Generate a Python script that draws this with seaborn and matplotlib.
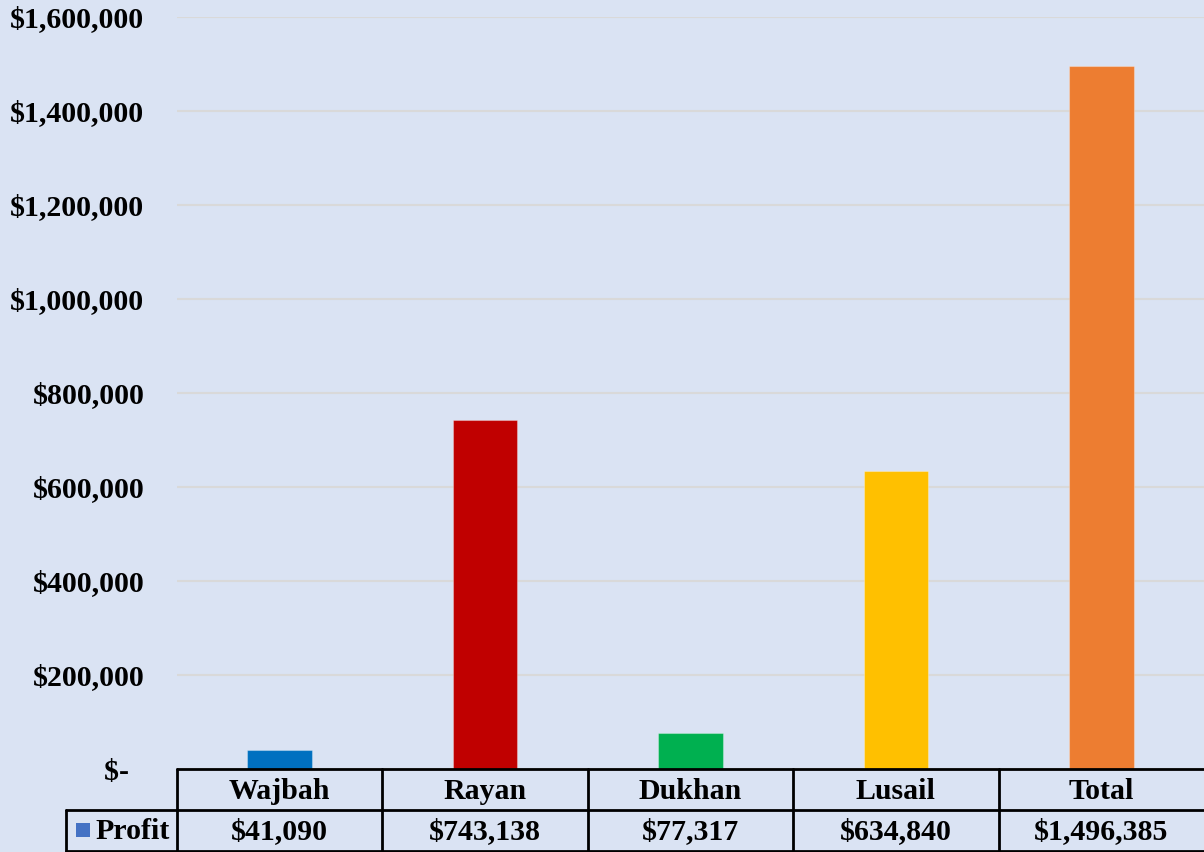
import matplotlib
matplotlib.use("Agg")
import matplotlib.pyplot as plt
import matplotlib.transforms as mtransforms
from matplotlib.lines import Line2D
from matplotlib.patches import Rectangle
from matplotlib.ticker import FuncFormatter
import seaborn as sns
import pandas as pd

# ---- data ----
categories = ["Wajbah", "Rayan", "Dukhan", "Lusail", "Total"]
profit = [41090, 743138, 77317, 634840, 1496385]
bar_colors = ["#0070C0", "#C00000", "#00B050", "#FFC000", "#ED7D31"]
series_name = "Profit"
legend_color = "#4472C4"
y_ticks = [0, 200000, 400000, 600000, 800000, 1000000, 1200000, 1400000, 1600000]

bg = "#DAE3F3"
FS = 21.5

sns.set_theme(style="white")
plt.rcParams["font.family"] = ["Liberation Serif", "DejaVu Serif"]
plt.rcParams["font.weight"] = "bold"

W, H = 1204, 852
fig = plt.figure(figsize=(W / 100, H / 100), dpi=100, facecolor=bg)
ax_left, ax_right, ax_bottom, ax_top = 177, 1204, 769, 17
ax = fig.add_axes([ax_left / W, (H - ax_bottom) / H, (ax_right - ax_left) / W, (ax_bottom - ax_top) / H])
ax.set_facecolor(bg)

df = pd.DataFrame({"cat": categories, "val": profit})
sns.barplot(data=df, x="cat", y="val", hue="cat", palette=bar_colors, order=categories,
            hue_order=categories, legend=False, width=0.315, ax=ax, zorder=3,
            edgecolor=(1, 1, 1, 0.3), linewidth=0.8, saturation=1)

ax.set_xlim(-0.5, len(categories) - 0.5)
ax.set_ylim(0, 1600000)
ax.set_yticks(y_ticks)
ax.yaxis.set_major_formatter(FuncFormatter(lambda v, p: "$-  " if v == 0 else "${:,.0f}".format(v)))
ax.tick_params(axis="y", length=0, pad=23.5, labelsize=FS)
for lbl in ax.get_yticklabels():
    lbl.set_fontweight("bold")
    lbl.set_color("black")
ax.set_xticks([])
ax.set_xlabel("")
ax.set_ylabel("")
for s in ax.spines.values():
    s.set_visible(False)
ax.grid(axis="y", color="#D9D9D9", linewidth=1.5, zorder=0)
ax.set_axisbelow(True)

# ---- data table ----
trans = mtransforms.blended_transform_factory(ax.transData, fig.transFigure)
fy = lambda py: (H - py) / H
fx = lambda px: px / W
row1_top, row2_top, row2_bot = 769, 810, 851
lc = "black"
lw = 2.0
n = len(categories)
fig.add_artist(Line2D([-0.5, n - 0.5], [fy(row1_top)] * 2, transform=trans, color=lc, lw=lw, clip_on=False))
fig.add_artist(Line2D([fx(66), 1.0], [fy(row2_top)] * 2, transform=fig.transFigure, color=lc, lw=lw, clip_on=False))
fig.add_artist(Line2D([fx(66), 1.0], [fy(row2_bot)] * 2, transform=fig.transFigure, color=lc, lw=lw, clip_on=False))
for i in range(n):
    fig.add_artist(Line2D([i - 0.5, i - 0.5], [fy(row1_top), fy(row2_bot)], transform=trans,
                          color=lc, lw=lw, clip_on=False))
fig.add_artist(Line2D([fx(66), fx(66)], [fy(row2_top), fy(row2_bot)], transform=fig.transFigure,
                      color=lc, lw=lw, clip_on=False))
ym1 = fy((row1_top + row2_top) / 2 + 2)
ym2 = fy((row2_top + row2_bot) / 2 + 1)
for i, (c, v) in enumerate(zip(categories, profit)):
    fig.text(i, ym1, c, transform=trans, fontsize=FS,
             fontweight="bold", ha="center", va="center", color="black")
    fig.text(i, ym2, "${:,.0f}".format(v), transform=trans, fontsize=FS,
             fontweight="bold", ha="center", va="center", color="black")
fig.add_artist(Rectangle((fx(76), fy(837)), 14 / W, 14 / H, transform=fig.transFigure,
                         facecolor=legend_color, edgecolor="none"))
fig.text(fx(95), ym2, series_name, fontsize=FS, fontweight="bold", ha="left", va="center", color="black")

fig.savefig("out.png", dpi=100, facecolor=bg)
